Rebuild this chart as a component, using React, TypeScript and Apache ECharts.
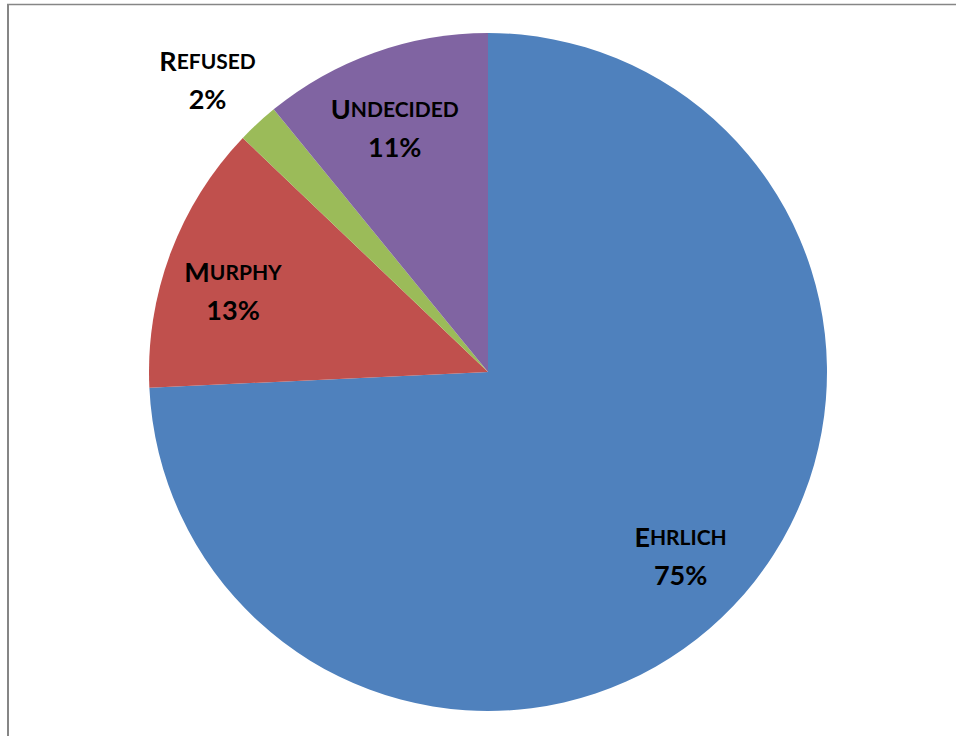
import React, { useEffect, useRef } from "react";
import * as echarts from "echarts";

const names = ["Ehrlich", "Murphy", "Refused", "Undecided"];
const values = [75, 13, 2, 11];
const colors = ["#4F81BD", "#C0504D", "#9BBB59", "#8064A2"];
const outsideLabels = ["Refused"];

// small label nudges (padding) to mimic the original label placement
const labelPadding: Record<string, number[]> = {
  Ehrlich: [0, 4, 4, 0],
  Murphy: [26, 6, 0, 0],
  Refused: [16, 4, 0, 0],
  Undecided: [18, 6, 0, 0],
};

const FONT = "Lato";

export default function App() {
  const ref = useRef<HTMLDivElement>(null);
  useEffect(() => {
    if (!ref.current) return;
    const chart = echarts.init(ref.current, null, { renderer: "svg" });
    const fmt = (p: any) =>
      "{a|" + p.name.charAt(0).toUpperCase() + "}{b|" + p.name.slice(1).toUpperCase() + "}\n{c|" + p.value + "%}";
    const rich = {
      a: { fontFamily: FONT, fontWeight: "bold", fontSize: 27, color: "#000", lineHeight: 38 },
      b: { fontFamily: FONT, fontWeight: "bold", fontSize: 21, color: "#000", lineHeight: 38 },
      c: { fontFamily: FONT, fontWeight: "bold", fontSize: 27, color: "#000", lineHeight: 38 },
    };
    const center = [488, 372];
    const labelSeries = (radius: number[], show: (n: string) => boolean) => ({
      type: "pie",
      center,
      radius,
      startAngle: 90,
      clockwise: true,
      silent: true,
      avoidLabelOverlap: false,
      z: 5,
      itemStyle: { color: "rgba(0,0,0,0)", borderWidth: 0 },
      labelLine: { show: false },
      data: names.map((n, i) => ({
        name: n,
        value: values[i],
        label: {
          show: show(n),
          position: "inside",
          formatter: fmt,
          rich,
          align: "center",
          padding: labelPadding[n],
        },
      })),
    });
    chart.setOption({
      animation: false,
      backgroundColor: "#fff",
      graphic: [
        { type: "line", shape: { x1: 8, y1: 4, x2: 8, y2: 736 }, style: { stroke: "#868686", lineWidth: 2 } },
        { type: "line", shape: { x1: 7, y1: 4.5, x2: 956, y2: 4.5 }, style: { stroke: "#868686", lineWidth: 1.5 } },
      ],
      series: [
        {
          type: "pie",
          center,
          radius: [0, 339],
          startAngle: 90,
          clockwise: true,
          silent: true,
          label: { show: false },
          labelLine: { show: false },
          itemStyle: { borderWidth: 0 },
          data: names.map((n, i) => ({ name: n, value: values[i], itemStyle: { color: colors[i] } })),
        },
        labelSeries([193, 339], (n) => !outsideLabels.includes(n)),
        labelSeries([380, 434], (n) => outsideLabels.includes(n)),
      ],
    });
    return () => chart.dispose();
  }, []);
  return <div ref={ref} style={{ position: "absolute", left: 0, top: 0, width: 956, height: 736 }} />;
}
